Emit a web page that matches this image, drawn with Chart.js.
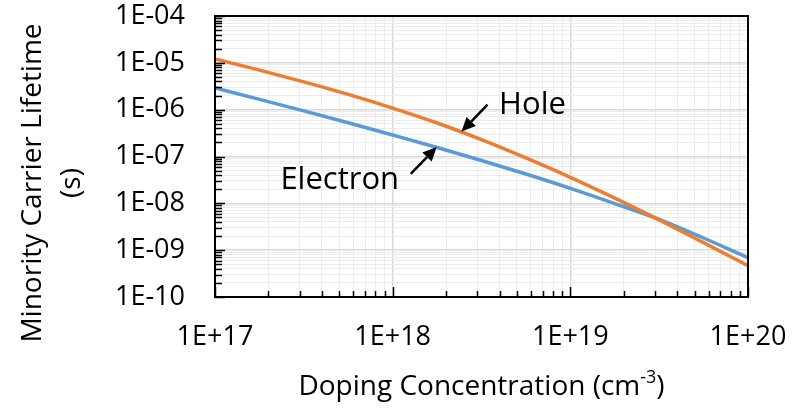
<!DOCTYPE html>
<html>
<head>
<meta charset="utf-8">
<script src="https://cdn.jsdelivr.net/npm/chart.js@4/dist/chart.umd.min.js"></script>
<style>
  html, body { margin: 0; padding: 0; background: #fff; }
  #wrap { width: 794px; height: 408px; }
</style>
</head>
<body>
<div id="wrap"><canvas id="grafico"></canvas></div>
<script>
// dados
const dopingConc = [1e17, 1.78e17, 3.16e17, 5.62e17, 1e18, 1.78e18, 3.16e18, 5.62e18, 1e19, 1.78e19, 3.16e19, 5.62e19, 1e20];
const holeLifetime = [1.21e-5, 6.98e-6, 3.93e-6, 2.12e-6, 1.08e-6, 5.19e-7, 2.29e-7, 9.33e-8, 3.59e-8, 1.29e-8, 4.42e-9, 1.45e-9, 4.68e-10];
const electronLifetime = [2.9e-6, 1.66e-6, 9.4e-7, 5.25e-7, 2.88e-7, 1.56e-7, 8.22e-8, 4.22e-8, 2.09e-8, 9.9e-9, 4.55e-9, 1.82e-9, 6.92e-10];

const xDecades = [17, 18, 19, 20];
const xTickLabels = ['1E+17', '1E+18', '1E+19', '1E+20'];
const yDecades = [-10, -9, -8, -7, -6, -5, -4];
const yTickLabels = ['1E-10', '1E-09', '1E-08', '1E-07', '1E-06', '1E-05', '1E-04'];

const seriesNames = ['Hole', 'Electron'];

const FONT = '"Open Sans", "DejaVu Sans", sans-serif';

// setas das anotações (ponta em coordenadas de dados, resto em pixels)
const notas = [
    { text: 'Hole', tipX: 2.44e18, tipY: 3.4e-7, tail: [26, -27], label: [71, -26] },
    { text: 'Electron', tipX: 1.77e18, tipY: 1.6e-7, tail: [-26, 27], label: [-97, 33] }
];

function buildLogTicks(decades) {
    return (axis) => {
        const ticks = [];
        const last = decades[decades.length - 1];
        decades.forEach(e => {
            for (let m = 1; m <= 9; m++) {
                if (e === last && m > 1) break;
                ticks.push({ value: m * Math.pow(10, e), major: m === 1 });
            }
        });
        axis.ticks = ticks;
    };
}

function tickLabel(decades, labels) {
    return (value, index, ticks) => {
        if (!ticks[index].major) return '';
        const i = decades.indexOf(Math.round(Math.log10(value)));
        return i >= 0 ? labels[i] : '';
    };
}

const gridColor = ctx => (ctx.tick && ctx.tick.major) ? '#d9d9d9' : '#ececec';
const gridWidth = ctx => (ctx.tick && ctx.tick.major) ? 1.5 : 1;

const extras = {
    id: 'extras',
    afterDraw(chart) {
        const ctx = chart.ctx;
        const a = chart.chartArea;
        const xs = chart.scales.x, ys = chart.scales.y;
        ctx.save();

        // marcas internas
        ctx.strokeStyle = '#000';
        ctx.lineWidth = 1.5;
        xs.ticks.forEach(t => {
            const px = Math.round(xs.getPixelForValue(t.value)) + 0.5;
            const len = t.major ? 10 : 6;
            ctx.beginPath();
            ctx.moveTo(px, a.bottom);
            ctx.lineTo(px, a.bottom - len);
            ctx.stroke();
        });
        ys.ticks.forEach(t => {
            const py = Math.round(ys.getPixelForValue(t.value)) + 0.5;
            const len = t.major ? 10 : 7;
            ctx.beginPath();
            ctx.moveTo(a.left, py);
            ctx.lineTo(a.left + len, py);
            ctx.stroke();
        });

        // moldura
        ctx.lineWidth = 2;
        ctx.strokeRect(a.left, a.top, a.right - a.left, a.bottom - a.top);

        // anotações com setas
        notas.forEach(n => {
            const tx = xs.getPixelForValue(n.tipX);
            const ty = ys.getPixelForValue(n.tipY);
            const sx = tx + n.tail[0], sy = ty + n.tail[1];
            const ang = Math.atan2(ty - sy, tx - sx);
            const head = 14, half = 6.5;
            const bx = tx - head * Math.cos(ang), by = ty - head * Math.sin(ang);
            ctx.strokeStyle = '#000';
            ctx.lineWidth = 2.5;
            ctx.beginPath();
            ctx.moveTo(sx, sy);
            ctx.lineTo(bx, by);
            ctx.stroke();
            ctx.fillStyle = '#000';
            ctx.beginPath();
            ctx.moveTo(tx, ty);
            ctx.lineTo(bx + half * Math.sin(ang), by - half * Math.cos(ang));
            ctx.lineTo(bx - half * Math.sin(ang), by + half * Math.cos(ang));
            ctx.closePath();
            ctx.fill();
            ctx.font = '31px ' + FONT;
            ctx.textAlign = 'center';
            ctx.textBaseline = 'middle';
            ctx.fillText(n.text, tx + n.label[0], ty + n.label[1]);
        });

        // título do eixo Y (duas linhas, rotacionado)
        ctx.fillStyle = '#000';
        ctx.font = '28px ' + FONT;
        ctx.textAlign = 'center';
        ctx.textBaseline = 'middle';
        ctx.save();
        ctx.translate(33, 183);
        ctx.rotate(-Math.PI / 2);
        ctx.fillText('Minority Carrier Lifetime', 0, 0);
        ctx.restore();
        ctx.save();
        ctx.translate(72, 183);
        ctx.rotate(-Math.PI / 2);
        ctx.fillText('(s)', 0, 0);
        ctx.restore();

        // título do eixo X com expoente
        const main = 'Doping Concentration (cm';
        const sup = '-3';
        const tail = ')';
        ctx.font = '28px ' + FONT;
        const w1 = ctx.measureText(main).width;
        const w3 = ctx.measureText(tail).width;
        ctx.font = '18px ' + FONT;
        const w2 = ctx.measureText(sup).width;
        const cx = (a.left + a.right) / 2;
        let x0 = cx - (w1 + w2 + w3) / 2;
        const yT = 387;
        ctx.textAlign = 'left';
        ctx.textBaseline = 'middle';
        ctx.font = '28px ' + FONT;
        ctx.fillText(main, x0, yT);
        ctx.font = '18px ' + FONT;
        ctx.fillText(sup, x0 + w1, yT - 9);
        ctx.font = '28px ' + FONT;
        ctx.fillText(tail, x0 + w1 + w2, yT);

        ctx.restore();
    }
};

const ctx = document.getElementById('grafico').getContext('2d');
const chart = new Chart(ctx, {
    type: 'scatter',
    data: {
        datasets: [
            {
                label: seriesNames[0],
                data: dopingConc.map((x, i) => ({ x: x, y: holeLifetime[i] })),
                borderColor: '#ED7D31',
                backgroundColor: '#ED7D31',
                borderWidth: 3.5,
                showLine: true,
                pointRadius: 0,
                cubicInterpolationMode: 'monotone'
            },
            {
                label: seriesNames[1],
                data: dopingConc.map((x, i) => ({ x: x, y: electronLifetime[i] })),
                borderColor: '#5B9BD5',
                backgroundColor: '#5B9BD5',
                borderWidth: 3.5,
                showLine: true,
                pointRadius: 0,
                cubicInterpolationMode: 'monotone'
            }
        ]
    },
    options: {
        responsive: true,
        maintainAspectRatio: false,
        animation: false,
        layout: { padding: { top: 16, right: 46, left: 0, bottom: 0 } },
        plugins: { legend: { display: false }, tooltip: { enabled: false } },
        scales: {
            x: {
                type: 'logarithmic',
                min: 1e17,
                max: 1e20,
                afterBuildTicks: buildLogTicks(xDecades),
                afterFit: s => { s.height = 111; s.paddingLeft = 0; s.paddingRight = 0; },
                border: { display: false },
                grid: { color: gridColor, lineWidth: gridWidth, drawTicks: false },
                ticks: {
                    autoSkip: false,
                    maxRotation: 0,
                    padding: 24,
                    color: '#000',
                    font: { family: FONT, size: 27 },
                    callback: tickLabel(xDecades, xTickLabels)
                }
            },
            y: {
                type: 'logarithmic',
                min: 1e-10,
                max: 1e-4,
                afterBuildTicks: buildLogTicks(yDecades),
                afterFit: s => { s.width = 215; s.paddingTop = 0; s.paddingBottom = 0; },
                border: { display: false },
                grid: { color: gridColor, lineWidth: gridWidth, drawTicks: false },
                ticks: {
                    autoSkip: false,
                    padding: 30,
                    color: '#000',
                    font: { family: FONT, size: 27 },
                    callback: tickLabel(yDecades, yTickLabels)
                }
            }
        }
    },
    plugins: [extras]
});
</script>
</body>
</html>
